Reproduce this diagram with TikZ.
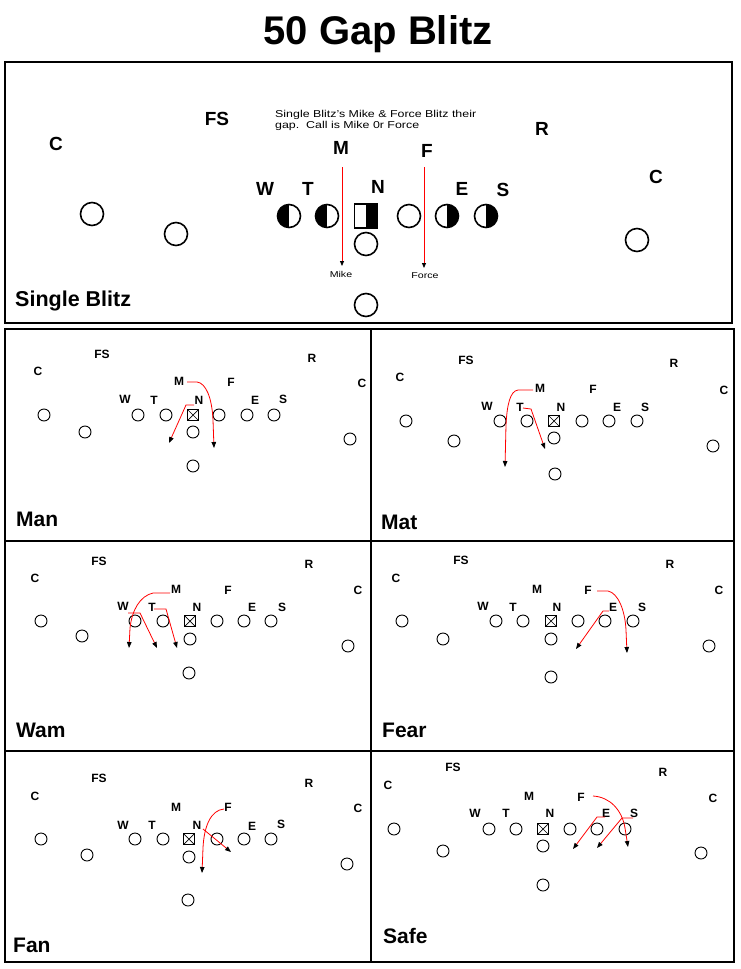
\documentclass[tikz,border=0pt]{standalone}
\usepackage{fontspec}
\setmainfont{Liberation Sans}
\usetikzlibrary{arrows.meta}
\begin{document}
\begin{tikzpicture}[x=1pt,y=-1pt,
  pl/.style={circle,draw,line width=0.9pt,minimum size=12pt,inner sep=0pt},
  bigpl/.style={circle,draw,line width=1.6pt,minimum size=23pt,inner sep=0pt},
  lhalf/.style={bigpl,path picture={\fill (path picture bounding box.north) rectangle (path picture bounding box.south west);}},
  rhalf/.style={bigpl,path picture={\fill (path picture bounding box.north) rectangle (path picture bounding box.south east);}},
  ctr/.style={rectangle,draw,line width=0.9pt,minimum size=11pt,inner sep=0pt,path picture={\draw[line width=0.7pt] (path picture bounding box.north west) -- (path picture bounding box.south east) (path picture bounding box.north east) -- (path picture bounding box.south west);}},
  bigctr/.style={rectangle,draw,line width=1.6pt,minimum width=23pt,minimum height=24pt,inner sep=0pt,path picture={\fill (path picture bounding box.north) rectangle (path picture bounding box.south east);}},
  sl/.style={font=\bfseries\fontsize{12}{12}\selectfont,inner sep=0pt},
  bl/.style={font=\bfseries\fontsize{19}{19}\selectfont,inner sep=0pt},
  pname/.style={font=\bfseries\fontsize{21}{21}\selectfont,inner sep=0pt,anchor=base west},
  tinytext/.style={font=\fontsize{10}{11}\selectfont,inner sep=0pt,anchor=base west},
  route/.style={red,line width=0.8pt,-{Triangle[color=black,length=6pt,width=4.5pt]}},
  bigroute/.style={red,line width=0.8pt,-{Triangle[color=black,length=5pt,width=4pt]}},
  frame/.style={line width=2pt}
]
\useasboundingbox (0,0) rectangle (741,969);
% title
\node[font=\bfseries\fontsize{40}{40}\selectfont,inner sep=0pt,anchor=base] (title) at (378,44) {50 Gap Blitz};
% frames
\draw[frame] (5,62) rectangle (732,323);
\draw[frame] (5,329) rectangle (734,962);
\draw[frame] (371,329) -- (371,962);
\draw[frame] (5,541) -- (734,541);
\draw[frame] (5,751) -- (734,751);

% ===== Top panel: Single Blitz =====
\foreach \n/\t/\x/\y in {zC1/C/56/144, zFS/FS/217/119, zM/M/341/148, zF/F/427/151, zR/R/542/129, zC2/C/656/177, zW/W/265/189, zT/T/308/189, zN/N/378/187, zE/E/462/189, zS/S/503/190}
  \node[bl] (\n) at (\x,\y) {\t};
\foreach \n/\x/\y in {zp1/92/214, zp2/176/234, zp3/409/216, zp4/366/244, zp5/366/305, zp6/637/240}
  \node[bigpl] (\n) at (\x,\y) {};
\node[lhalf] (zw) at (289,216) {};
\node[lhalf] (zt) at (327,216) {};
\node[bigctr] (zn) at (366,216) {};
\node[rhalf] (ze) at (447,216) {};
\node[rhalf] (zs) at (486,216) {};
\node[tinytext] (note1) at (275,117) {\scalebox{1.24}[1]{Single Blitz's Mike \& Force Blitz their}};
\node[tinytext] (note2) at (275,128) {\scalebox{1.24}[1]{gap.\ \ Call is Mike 0r Force}};
\coordinate (zm1) at (342,167); \coordinate (zm2) at (342,266);
\coordinate (zf1) at (424,167); \coordinate (zf2) at (424,268);
\draw[bigroute] (zm1) -- (zm2);
\draw[bigroute] (zf1) -- (zf2);
\node[font=\fontsize{8.5}{9}\selectfont,inner sep=0pt,anchor=base] (mike) at (341,277) {\scalebox{1.25}[1]{Mike}};
\node[font=\fontsize{8.5}{9}\selectfont,inner sep=0pt,anchor=base] (force) at (425,278) {\scalebox{1.25}[1]{Force}};
\node[pname,font=\bfseries\fontsize{21.5}{22}\selectfont] (single) at (15,306) {Single Blitz};

% ===== Man =====
\foreach \n/\t/\x/\y in {aC1/C/38/371, aFS/FS/102/354, aR/R/312/358, aC2/C/362/383, aM/M/179/381, aF/F/231/382, aW/W/125/399, aT/T/154/400, aN/N/199/400, aE/E/255/400, aS/S/283/399}
  \node[sl] (\n) at (\x,\y) {\t};
\foreach \n/\x/\y in {ap1/44/415, ap2/85/432, ap3/138/415, ap4/166/415, ap5/219/415, ap6/247/415, ap7/274/415, ap8/193/432, ap9/193/466, ap10/350/439}
  \node[pl] (\n) at (\x,\y) {};
\node[ctr] (actr) at (193,415) {};
\node[pname] (man) at (16,526) {Man};
\coordinate (am1) at (187,382); \coordinate (am2) at (214,448);
\coordinate (an1) at (194,405); \coordinate (an2) at (169,443);
\draw[route] (am1) -- (197,382) .. controls (206,383) and (212,398) .. (213,420) -- (am2);
\draw[route] (an1) -- (186,405) -- (an2);

% ===== Mat =====
\foreach \n/\t/\x/\y in {bC1/C/400/377, bFS/FS/466/360, bR/R/674/363, bC2/C/724/390, bM/M/540/388, bF/F/593/389, bW/W/487/406, bT/T/520/407, bN/N/561/407, bE/E/617/407, bS/S/645/407}
  \node[sl] (\n) at (\x,\y) {\t};
\foreach \n/\x/\y in {bp1/406/421, bp2/454/441, bp3/500/421, bp4/527/421, bp5/582/421, bp6/609/421, bp7/637/421, bp8/554/438, bp9/555/474, bp10/713/446}
  \node[pl] (\n) at (\x,\y) {};
\node[ctr] (bctr) at (554,421) {};
\node[pname] (mat) at (381,529) {Mat};
\coordinate (bm1) at (533,390); \coordinate (bm2) at (505,467);
\coordinate (bt1) at (523,408); \coordinate (bt2) at (545,449);
\draw[route] (bm1) -- (518,390) .. controls (510,391) and (507,405) .. (506,425) -- (bm2);
\draw[route] (bt1) -- (531,409) -- (bt2);

% ===== Wam =====
\foreach \n/\t/\x/\y in {cC1/C/35/578, cFS/FS/99/561, cR/R/309/564, cC2/C/358/590, cM/M/176/589, cF/F/228/590, cW/W/123/606, cT/T/152/607, cN/N/197/607, cE/E/252/607, cS/S/282/607}
  \node[sl] (\n) at (\x,\y) {\t};
\foreach \n/\x/\y in {cp1/41/621, cp2/82/636, cp3/135/621, cp4/163/621, cp5/217/621, cp6/244/621, cp7/271/621, cp8/190/639, cp9/189/673, cp10/348/646}
  \node[pl] (\n) at (\x,\y) {};
\node[ctr] (cctr) at (190,621) {};
\node[pname] (wam) at (16,737) {Wam};
\coordinate (cm1) at (170,593); \coordinate (cm2) at (129,648);
\coordinate (cw1) at (128,613); \coordinate (cw2) at (157,648);
\coordinate (ct1) at (154,609); \coordinate (ct2) at (177,648);
\draw[route] (cm1) -- (153,593) .. controls (140,596) and (132,610) .. (130,628) -- (cm2);
\draw[route] (cw1) -- (140,613) -- (cw2);
\draw[route] (ct1) -- (166,609) -- (ct2);

% ===== Fear =====
\foreach \n/\t/\x/\y in {dC1/C/396/578, dFS/FS/461/560, dR/R/670/564, dC2/C/719/590, dM/M/537/589, dF/F/588/590, dW/W/483/606, dT/T/513/607, dN/N/557/607, dE/E/613/607, dS/S/642/607}
  \node[sl] (\n) at (\x,\y) {\t};
\foreach \n/\x/\y in {dp1/402/621, dp2/443/639, dp3/496/621, dp4/523/621, dp5/578/621, dp6/605/621, dp7/633/621, dp8/551/639, dp9/551/677, dp10/709/646}
  \node[pl] (\n) at (\x,\y) {};
\node[ctr] (dctr) at (551,621) {};
\node[pname] (fear) at (382,737) {Fear};
\coordinate (df1) at (597,591); \coordinate (df2) at (627,653);
\coordinate (de1) at (609,611); \coordinate (de2) at (576,649);
\draw[route] (df1) -- (608,591) .. controls (618,593) and (625,610) .. (626,630) -- (df2);
\draw[route] (de1) -- (603,611) -- (de2);

% ===== Fan =====
\foreach \n/\t/\x/\y in {eC1/C/35/796, eFS/FS/99/778, eR/R/309/783, eC2/C/358/808, eM/M/176/807, eF/F/228/807, eW/W/123/825, eT/T/152/825, eN/N/197/825, eE/E/252/826, eS/S/281/824}
  \node[sl] (\n) at (\x,\y) {\t};
\foreach \n/\x/\y in {ep1/41/839, ep2/87/855, ep3/135/839, ep4/163/839, ep5/217/839, ep6/244/839, ep7/271/839, ep8/189/857, ep9/188/900, ep10/347/864}
  \node[pl] (\n) at (\x,\y) {};
\node[ctr] (ectr) at (189,839) {};
\node[pname] (fan) at (13,952) {Fan};
\coordinate (ef1) at (224,809); \coordinate (ef2) at (202,873);
\coordinate (en1) at (203,829); \coordinate (en2) at (231,852);
\draw[route] (ef1) .. controls (211,810) and (204,826) .. (203,848) -- (ef2);
\draw[route] (en1) -- (en2);

% ===== Safe =====
\foreach \n/\t/\x/\y in {fC1/C/388/785, fFS/FS/453/767, fR/R/663/772, fC2/C/713/798, fM/M/529/796, fF/F/581/797, fW/W/475/813, fT/T/506/813, fN/N/550/813, fE/E/606/813, fS/S/634/813}
  \node[sl] (\n) at (\x,\y) {\t};
\foreach \n/\x/\y in {fp1/394/829, fp2/443/851, fp3/489/829, fp4/516/829, fp5/570/829, fp6/597/829, fp7/625/829, fp8/543/846, fp9/543/885, fp10/701/853}
  \node[pl] (\n) at (\x,\y) {};
\node[ctr] (fctr) at (543,829) {};
\node[pname] (safe) at (383,943) {Safe};
\coordinate (ff1) at (593,796); \coordinate (ff2) at (628,847);
\coordinate (fe1) at (605,817); \coordinate (fe2) at (573,849);
\coordinate (fs1) at (633,818); \coordinate (fs2) at (597,848);
\draw[route] (ff1) .. controls (610,797) and (622,810) .. (625,828) -- (ff2);
\draw[route] (fe1) -- (597,817) -- (fe2);
\draw[route] (fs1) -- (622,818) -- (fs2);
\end{tikzpicture}
\end{document}
